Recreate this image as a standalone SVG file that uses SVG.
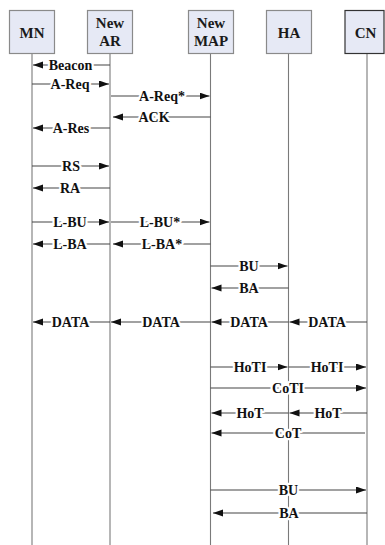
<svg xmlns="http://www.w3.org/2000/svg" width="385" height="545" viewBox="0 0 385 545">
<defs>
<marker id="ah" markerUnits="userSpaceOnUse" markerWidth="11" markerHeight="8" refX="10" refY="3.5" orient="auto">
<path d="M0,0 L10,3.5 L0,7 z" fill="#111"/>
</marker>
<style>
.box{fill:#e6e9f5;stroke:#8a8a8a;stroke-width:1.2}
.boxd{fill:#e6e9f5;stroke:#333;stroke-width:1.2}
.life{stroke:#7a7a7a;stroke-width:1.1}
.nl{font-family:"Liberation Serif",serif;font-weight:bold;font-size:15px;fill:#1a1a1a;text-anchor:middle}
.msg{stroke:#444;stroke-width:1.1;marker-end:url(#ah)}
.ml{font-family:"Liberation Serif",serif;font-weight:bold;font-size:14px;fill:#111;text-anchor:middle;stroke:#fff;stroke-width:4.5;paint-order:stroke;stroke-linejoin:round}
</style>
</defs>
<rect width="385" height="545" fill="#fff"/>
<g id="MN">
<line class="life" x1="32" y1="54" x2="32" y2="545"/>
<rect class="box" x="9.5" y="10.5" width="45" height="43"/>
<text class="nl" x="32" y="38">MN</text>
</g>
<g id="NewAR">
<line class="life" x1="110" y1="54" x2="110" y2="545"/>
<rect class="box" x="87.5" y="10.5" width="45" height="43"/>
<text class="nl" x="110" y="28">New</text>
<text class="nl" x="110" y="45.5">AR</text>
</g>
<g id="NewMAP">
<line class="life" x1="210.5" y1="54" x2="210.5" y2="545"/>
<rect class="box" x="188.5" y="10.5" width="45" height="43"/>
<text class="nl" x="211" y="28">New</text>
<text class="nl" x="211" y="45.5">MAP</text>
</g>
<g id="HA">
<line class="life" x1="288.5" y1="54" x2="288.5" y2="545"/>
<rect class="box" x="266.5" y="10.5" width="45" height="43"/>
<text class="nl" x="289" y="38">HA</text>
</g>
<g id="CN">
<line class="life" x1="367" y1="54" x2="367" y2="545"/>
<rect class="boxd" x="345" y="10.5" width="39" height="43"/>
<text class="nl" x="365.5" y="38">CN</text>
</g>
<g id="connectors">
<line class="msg" x1="110" y1="65" x2="33" y2="65"/><text class="ml" x="70.5" y="69.5">Beacon</text>
<line class="msg" x1="32" y1="84" x2="109" y2="84"/><text class="ml" x="70" y="88.5">A-Req</text>
<line class="msg" x1="111" y1="96" x2="209.5" y2="96"/><text class="ml" x="162" y="100.5">A-Req*</text>
<line class="msg" x1="210.5" y1="117" x2="113" y2="117"/><text class="ml" x="154" y="121.5">ACK</text>
<line class="msg" x1="110" y1="128" x2="33" y2="128"/><text class="ml" x="71" y="132.5">A-Res</text>
<line class="msg" x1="32" y1="166" x2="109" y2="166"/><text class="ml" x="71" y="170.5">RS</text>
<line class="msg" x1="110" y1="188" x2="33" y2="188"/><text class="ml" x="70" y="192.5">RA</text>
<line class="msg" x1="32" y1="222" x2="109" y2="222"/><text class="ml" x="70" y="226.5">L-BU</text>
<line class="msg" x1="111" y1="222" x2="209.5" y2="222"/><text class="ml" x="160" y="226.5">L-BU*</text>
<line class="msg" x1="110" y1="244" x2="33" y2="244"/><text class="ml" x="70" y="248.5">L-BA</text>
<line class="msg" x1="210.5" y1="244" x2="113" y2="244"/><text class="ml" x="162" y="248.5">L-BA*</text>
<line class="msg" x1="210.5" y1="266" x2="287.5" y2="266"/><text class="ml" x="249" y="270.5">BU</text>
<line class="msg" x1="288.5" y1="288" x2="211.5" y2="288"/><text class="ml" x="249" y="292.5">BA</text>
<line class="msg" x1="367" y1="322" x2="289.5" y2="322"/><text class="ml" x="327" y="326.5">DATA</text>
<line class="msg" x1="288.5" y1="322" x2="211.5" y2="322"/><text class="ml" x="249" y="326.5">DATA</text>
<line class="msg" x1="210.5" y1="322" x2="111" y2="322"/><text class="ml" x="161" y="326.5">DATA</text>
<line class="msg" x1="110" y1="322" x2="33" y2="322"/><text class="ml" x="70.5" y="326.5">DATA</text>
<line class="msg" x1="210.5" y1="367" x2="287.5" y2="367"/><text class="ml" x="250" y="371.5">HoTI</text>
<line class="msg" x1="288.5" y1="367" x2="366" y2="367"/><text class="ml" x="327" y="371.5">HoTI</text>
<line class="msg" x1="210.5" y1="388" x2="366" y2="388"/><text class="ml" x="288" y="392.5">CoTI</text>
<line class="msg" x1="288.5" y1="413" x2="211.5" y2="413"/><text class="ml" x="250" y="417.5">HoT</text>
<line class="msg" x1="367" y1="413" x2="289.5" y2="413"/><text class="ml" x="328" y="417.5">HoT</text>
<line class="msg" x1="365" y1="433" x2="211.5" y2="433"/><text class="ml" x="288" y="437.5">CoT</text>
<line class="msg" x1="210.5" y1="490" x2="366" y2="490"/><text class="ml" x="288.5" y="494.5">BU</text>
<line class="msg" x1="367" y1="513" x2="213" y2="513"/><text class="ml" x="289" y="517.5">BA</text>
</g>
</svg>
